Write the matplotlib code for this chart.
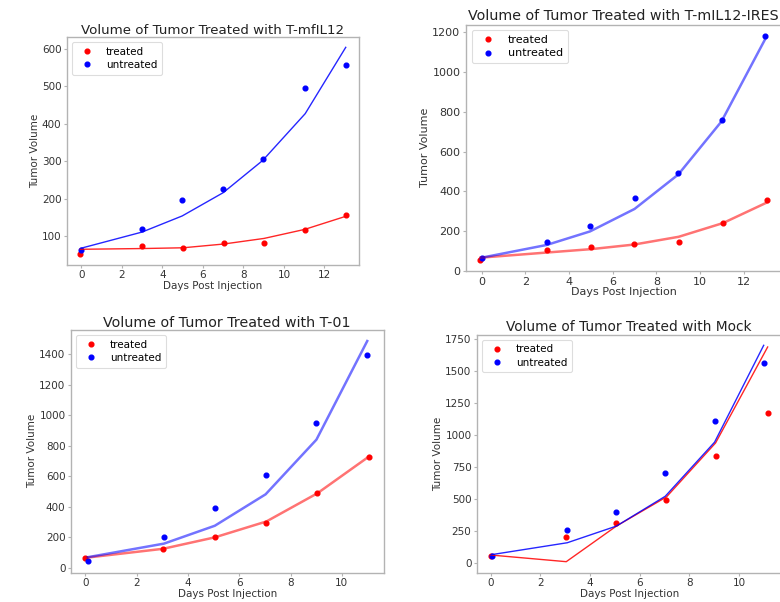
import matplotlib
matplotlib.use("Agg")
import matplotlib.pyplot as plt

# ---- data ----
titles = ["Volume of Tumor Treated with T-mfIL12",
          "Volume of Tumor Treated with T-mIL12-IRES",
          "Volume of Tumor Treated with T-01",
          "Volume of Tumor Treated with Mock"]

# chart 1
c1_tx = [-0.05, 3.02, 5.02, 7.02, 9.02, 11.02, 13.05]
c1_ty = [52, 74, 69, 81, 81, 116, 156]
c1_ux = [0.0, 3.0, 4.98, 7.0, 8.95, 11.05, 13.05]
c1_uy = [63, 119, 197, 225, 305, 496, 557]
c1_tfit = [65, 67, 69, 79, 94, 118, 153]
c1_ufit = [68, 111, 154, 216, 302, 427, 604]

# chart 2
c2_tx = [-0.06, 3.0, 5.02, 6.98, 9.02, 11.05, 13.07]
c2_ty = [57, 104, 121, 138, 148, 241, 356]
c2_ux = [0.0, 2.98, 4.96, 7.0, 9.0, 10.98, 12.98]
c2_uy = [67, 145, 224, 367, 492, 760, 1183]
c2_tfit = [67, 93, 110, 133, 172, 241, 345]
c2_ufit = [67, 131, 199, 312, 485, 752, 1166]

# chart 3
c3_tx = [0.0, 3.03, 5.05, 7.06, 9.05, 11.07]
c3_ty = [61, 124, 202, 290, 488, 724]
c3_ux = [0.1, 3.07, 5.05, 7.03, 9.01, 10.99]
c3_uy = [41, 202, 390, 607, 951, 1391]
c3_tfit = [65, 124, 199, 303, 488, 730]
c3_ufit = [69, 158, 275, 481, 839, 1485]

# chart 4
c4_tx = [0.0, 3.04, 5.06, 7.08, 9.06, 11.16]
c4_ty = [57, 205, 316, 495, 835, 1174]
c4_ux = [0.03, 3.08, 5.06, 7.03, 9.02, 11.0]
c4_uy = [57, 257, 397, 703, 1107, 1566]
c4_tfit = [62, 10, 288, 516, 938, 1688]
c4_ufit = [65, 158, 288, 521, 944, 1701]

W, H = 780, 602
fig = plt.figure(figsize=(W / 100, H / 100), dpi=100)

SPINE = "#b3b3b3"
TXT = "#333333"


def make_ax(l, t, r, b, data, title, fs, tfs, tpad, thick):
    ax = fig.add_axes([l / W, 1 - b / H, (r - l) / W, (b - t) / H])
    tx, ty, ux, uy, tfit, ufit = data
    ax.plot(tx, ty, "o", color="#ff0000", markersize=3.4, label="treated")
    ax.plot(ux, uy, "o", color="#0000ff", markersize=3.4, label="untreated")
    if thick:
        ax.plot(tx, tfit, "-", color="#ff0000", lw=1.8, alpha=0.55)
        ax.plot(ux, ufit, "-", color="#0000ff", lw=1.8, alpha=0.55)
    else:
        ax.plot(tx, tfit, "-", color="#ff0000", lw=1.0, alpha=0.85)
        ax.plot(ux, ufit, "-", color="#0000ff", lw=1.0, alpha=0.85)
    ax.set_title(title, fontsize=tfs, color="#222222", pad=tpad)
    ax.set_xlabel("Days Post Injection", fontsize=fs, color=TXT, labelpad=0.5)
    ax.set_ylabel("Tumor Volume", fontsize=fs, color=TXT, labelpad=1.5)
    for s in ax.spines.values():
        s.set_color(SPINE)
        s.set_linewidth(1.0)
    ax.tick_params(labelsize=fs, colors=SPINE, labelcolor=TXT, length=2.5, width=0.8, pad=1.5)
    leg = ax.legend(loc="upper left", fontsize=fs, numpoints=1, labelspacing=0.3,
                    borderpad=0.45, fancybox=True, framealpha=1)
    leg.get_frame().set_edgecolor("#dddddd")
    leg.get_frame().set_linewidth(0.8)
    return ax


ax1 = make_ax(67, 37, 359, 264.5, (c1_tx, c1_ty, c1_ux, c1_uy, c1_tfit, c1_ufit),
              titles[0], 7.5, 9.6, 2.5, False)
ax1.set_xticks([0, 2, 4, 6, 8, 10, 12])
ax1.set_yticks([100, 200, 300, 400, 500, 600])

ax2 = make_ax(466, 24.5, 781.5, 271, (c2_tx, c2_ty, c2_ux, c2_uy, c2_tfit, c2_ufit),
              titles[1], 8.0, 10.3, 3.5, True)
ax2.set_xticks([0, 2, 4, 6, 8, 10, 12])
ax2.set_yticks([0, 200, 400, 600, 800, 1000, 1200])

ax3 = make_ax(71, 330, 383.5, 572.5, (c3_tx, c3_ty, c3_ux, c3_uy, c3_tfit, c3_ufit),
              titles[2], 7.5, 10.3, 2.5, True)
ax3.set_xticks([0, 2, 4, 6, 8, 10])
ax3.set_yticks([0, 200, 400, 600, 800, 1000, 1200, 1400])

ax4 = make_ax(477, 334.5, 781.5, 572.5, (c4_tx, c4_ty, c4_ux, c4_uy, c4_tfit, c4_ufit),
              titles[3], 7.5, 9.9, 2.5, False)
ax4.set_xticks([0, 2, 4, 6, 8, 10])
ax4.set_yticks([0, 250, 500, 750, 1000, 1250, 1500, 1750])

fig.savefig("out.png", dpi=100)
